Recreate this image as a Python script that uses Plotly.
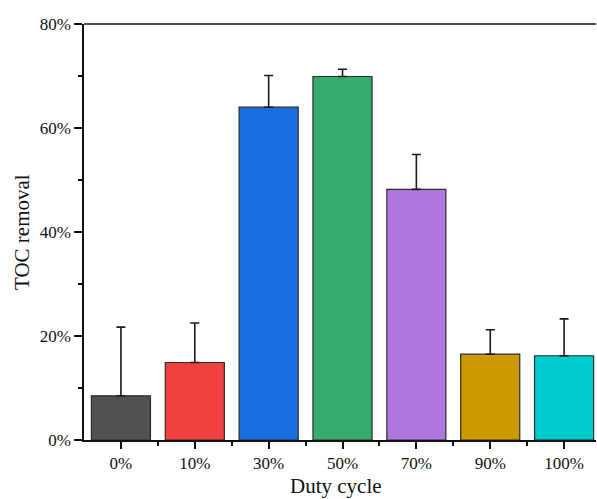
import plotly.graph_objects as go

categories = ["0%", "10%", "30%", "50%", "70%", "90%", "100%"]
toc_removal = [8.5, 14.9, 64.0, 69.9, 48.2, 16.5, 16.2]
toc_error = [13.2, 7.6, 6.1, 1.4, 6.7, 4.7, 7.1]
bar_colors = ["#515151", "#F14040", "#1A6FDF", "#37AD6B", "#B177DE", "#CC9900", "#00CBCC"]
y_ticks = [0, 20, 40, 60, 80]
y_tick_labels = ["0%", "20%", "40%", "60%", "80%"]

positions = list(range(len(categories)))

FONT = "Liberation Serif, Times New Roman, serif"

fig = go.Figure()
fig.add_trace(go.Bar(
    x=positions,
    y=toc_removal,
    width=0.8,
    marker=dict(color=bar_colors, line=dict(color="#2b2b2b", width=1.2)),
    error_y=dict(type="data", symmetric=False, array=toc_error,
                 arrayminus=[0] * len(toc_error),
                 color="#1a1a1a", thickness=1.6, width=4.5),
    showlegend=False,
))

W, H = 596, 499
ml, mr, mt, mb = 84, 0, 24, 59
pw = W - ml - mr
px_per_cat = 73.86

fig.update_layout(
    width=W, height=H,
    margin=dict(l=ml, r=mr, t=mt, b=mb, pad=0),
    plot_bgcolor="white", paper_bgcolor="white",
    font=dict(family=FONT, color="#111", size=17),
    bargap=0.2,
    xaxis=dict(
        range=[-0.5, -0.5 + pw / px_per_cat],
        tickmode="array", tickvals=positions, ticktext=categories,
        ticks="outside", ticklen=7, tickwidth=1.5, tickcolor="#111",
        minor=dict(tickmode="array", tickvals=[p + 0.5 for p in positions[:-1]],
                   ticks="outside", ticklen=4, tickwidth=1.5, tickcolor="#111"),
        showline=True, linecolor="#111", linewidth=1.5, mirror=False,
        showgrid=False, zeroline=False,
        tickfont=dict(size=17, family=FONT),
    ),
    yaxis=dict(
        range=[0, 80],
        tickmode="array", tickvals=y_ticks, ticktext=y_tick_labels,
        ticks="outside", ticklen=8, tickwidth=1.5, tickcolor="#111",
        minor=dict(tickmode="linear", tick0=10, dtick=20,
                   ticks="outside", ticklen=4, tickwidth=1.5, tickcolor="#111"),
        showline=True, linecolor="#111", linewidth=1.5, mirror=False,
        showgrid=False, zeroline=False,
        tickfont=dict(size=17, family=FONT),
    ),
    shapes=[dict(type="line", xref="paper", yref="paper", x0=0, x1=1, y0=1, y1=1,
                 line=dict(color="#111", width=1.5))],
    annotations=[
        dict(text="Duty cycle", xref="paper", yref="paper",
             x=(336 - ml) / pw, y=(H - mb - 486) / (H - mt - mb),
             xanchor="center", yanchor="middle", showarrow=False,
             font=dict(size=21, family=FONT, color="#111")),
        dict(text="TOC removal", xref="paper", yref="paper",
             x=(22 - ml) / pw, y=0.5, textangle=-90,
             xanchor="center", yanchor="middle", showarrow=False,
             font=dict(size=21, family=FONT, color="#111")),
    ],
)

fig.write_html("out.html", config={"displayModeBar": False},
               post_script="document.body.style.margin='0';")
